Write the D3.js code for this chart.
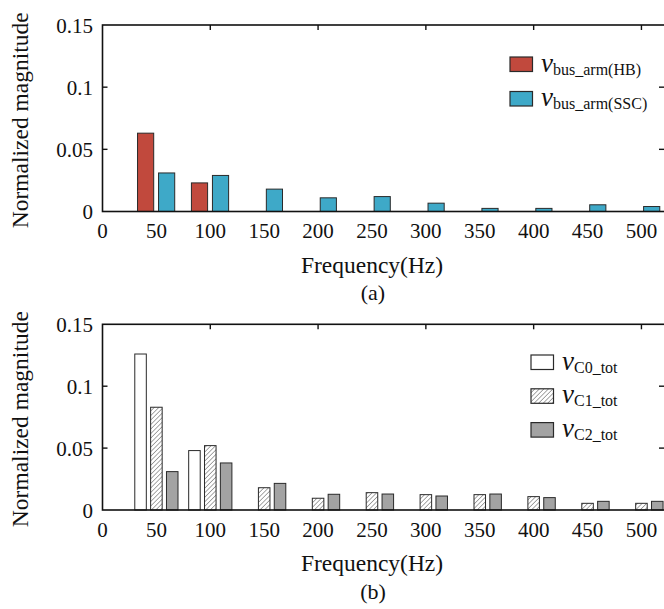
<!DOCTYPE html>
<html>
<head>
<meta charset="utf-8">
<script src="https://cdn.jsdelivr.net/npm/d3@7"></script>
<style>
  body { margin: 0; background: #fff; font-family: "Liberation Serif", serif; }
  svg { display: block; }
  text { font-family: "Liberation Serif", serif; }
</style>
</head>
<body>
<svg id="chart" width="664" height="609" font-family="Liberation Serif"></svg>
<script>
// 频率 (Hz)
const freqs = [50, 100, 150, 200, 250, 300, 350, 400, 450, 500];
const xTicks = [0, 50, 100, 150, 200, 250, 300, 350, 400, 450, 500];
const yTicks = [0, 0.05, 0.1, 0.15];

// (a) 数据
const busArmHB  = [0.063, 0.023, 0, 0, 0, 0, 0, 0, 0, 0];
const busArmSSC = [0.031, 0.029, 0.018, 0.011, 0.012, 0.0067, 0.0025, 0.0025, 0.0054, 0.004];

// (b) 数据
const vC0 = [0.126, 0.048, 0, 0, 0, 0, 0, 0, 0, 0];
const vC1 = [0.083, 0.052, 0.018, 0.0095, 0.014, 0.0124, 0.0124, 0.0108, 0.0054, 0.0054];
const vC2 = [0.031, 0.038, 0.0215, 0.0127, 0.0129, 0.0113, 0.0129, 0.0100, 0.0070, 0.0070];

const FONT = 'Liberation Serif';
const svg = d3.select('#chart');

// 斜线填充
const defs = svg.append('defs');
defs.append('pattern')
    .attr('id', 'hatch')
    .attr('patternUnits', 'userSpaceOnUse')
    .attr('width', 3.2)
    .attr('height', 3.2)
    .attr('patternTransform', 'rotate(45)')
  .call(p => {
      p.append('rect').attr('width', 3.2).attr('height', 3.2).attr('fill', '#fff');
      p.append('line').attr('x1', 0).attr('y1', 0).attr('x2', 0).attr('y2', 3.2)
          .attr('stroke', '#7a7a7a').attr('stroke-width', 1.3);
  });

function txt(sel, size) {
    return sel.append('text')
        .attr('font-family', FONT)
        .style('font-family', FONT)
        .attr('font-size', size)
        .attr('fill', '#111');
}

function drawPanel(cfg) {
    const x = d3.scaleLinear().domain([0, 520]).range([102.5, 663]);
    const y = d3.scaleLinear().domain([0, 0.15]).range([cfg.bottom, cfg.top]);
    const g = svg.append('g');

    // 柱子
    cfg.series.forEach(s => {
        g.selectAll(null)
            .data(freqs.map((f, i) => ({ f: f, v: s.values[i] })).filter(d => d.v > 0))
            .enter()
            .append('rect')
            .attr('x', d => x(d.f + s.offset - cfg.barW / 2))
            .attr('width', x(cfg.barW) - x(0))
            .attr('y', d => y(d.v))
            .attr('height', d => y(0) - y(d.v))
            .attr('fill', s.fill)
            .attr('stroke', '#2a2a2a')
            .attr('stroke-width', 1);
    });

    // 坐标框
    g.append('rect')
        .attr('x', x(0)).attr('y', y(0.15))
        .attr('width', x(520) - x(0) + 3).attr('height', y(0) - y(0.15))
        .attr('fill', 'none').attr('stroke', '#111').attr('stroke-width', 1.6);

    // 内刻度
    [0.05, 0.1].forEach(t => {
        g.append('line').attr('x1', x(0)).attr('x2', x(0) + 5).attr('y1', y(t)).attr('y2', y(t))
            .attr('stroke', '#111').attr('stroke-width', 1.4);
        g.append('line').attr('x1', x(520) + 2).attr('x2', x(520) - 4).attr('y1', y(t)).attr('y2', y(t))
            .attr('stroke', '#111').attr('stroke-width', 1.4);
    });
    [100, 200, 300, 400, 500].forEach(t => {
        g.append('line').attr('x1', x(t)).attr('x2', x(t)).attr('y1', y(0.15)).attr('y2', y(0.15) + 5)
            .attr('stroke', '#111').attr('stroke-width', 1.4);
    });

    // 刻度标签
    yTicks.forEach(d => {
        txt(g, 21)
            .attr('x', 93)
            .attr('y', y(d) + 7.5)
            .attr('text-anchor', 'end')
            .text(d === 0 ? '0' : String(d));
    });

    xTicks.forEach(d => {
        txt(g, 21)
            .attr('x', x(d))
            .attr('y', y(0) + 26.5)
            .attr('text-anchor', 'middle')
            .text(d);
    });

    // 轴标题
    txt(g, 23.5)
        .attr('x', 372).attr('y', y(0) + 61)
        .attr('text-anchor', 'middle')
        .text('Frequency(Hz)');
    txt(g, 22)
        .attr('x', 373).attr('y', y(0) + 88.5)
        .attr('text-anchor', 'middle')
        .text(cfg.label);
    txt(g, 23.5)
        .attr('transform', `translate(28,${(cfg.top + cfg.bottom) / 2 + 2}) rotate(-90)`)
        .attr('text-anchor', 'middle')
        .text('Normalized magnitude');

    // 图例
    cfg.series.forEach((s, i) => {
        const yy = cfg.legendY + i * cfg.legendStep;
        g.append('rect')
            .attr('x', cfg.legendX).attr('y', yy)
            .attr('width', 22.5).attr('height', 14.5)
            .attr('fill', s.fill).attr('stroke', '#2a2a2a').attr('stroke-width', 1.2);
        const t = txt(g, 27)
            .attr('x', cfg.legendX + 31).attr('y', yy + 14.5);
        t.append('tspan').attr('font-style', 'italic').text('v');
        t.append('tspan').attr('font-size', 16).attr('dy', 3).text(s.sub);
    });
}

drawPanel({
    top: 25, bottom: 211.5, label: '(a)', barW: 15,
    legendX: 510, legendY: 57, legendStep: 34.5,
    series: [
        { values: busArmHB, offset: -10, fill: '#c1493d', sub: 'bus_arm(HB)' },
        { values: busArmSSC, offset: 9.5, fill: '#3ea9c8', sub: 'bus_arm(SSC)' }
    ]
});

drawPanel({
    top: 324.3, bottom: 510, label: '(b)', barW: 10.7,
    legendX: 531, legendY: 355, legendStep: 33.8,
    series: [
        { values: vC0, offset: -14.7, fill: '#ffffff', sub: 'C0_tot' },
        { values: vC1, offset: 0, fill: 'url(#hatch)', sub: 'C1_tot' },
        { values: vC2, offset: 14.7, fill: '#a3a3a3', sub: 'C2_tot' }
    ]
});
</script>
</body>
</html>
